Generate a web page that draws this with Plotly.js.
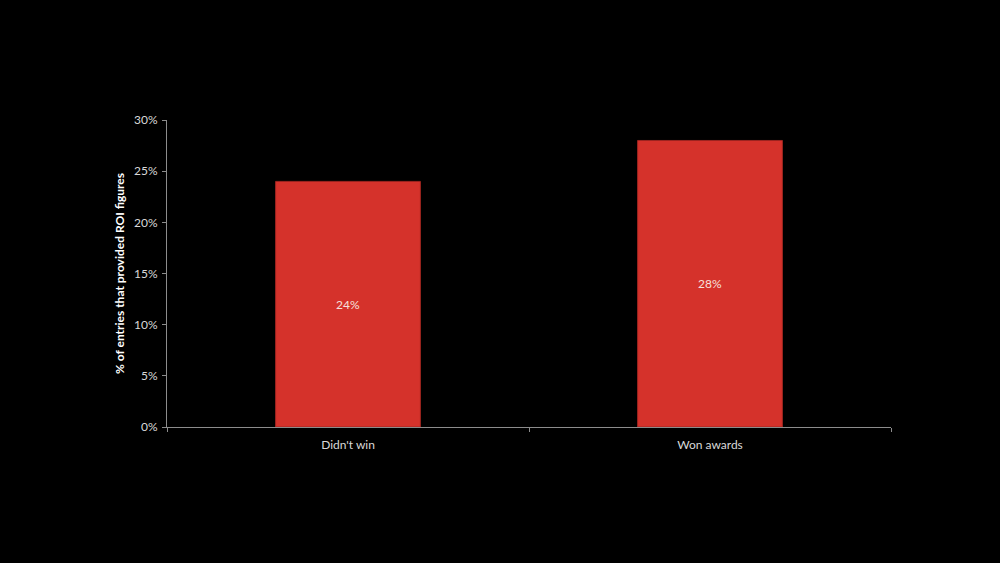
<!DOCTYPE html>
<html>
<head>
<meta charset="utf-8">
<script src="https://cdn.plot.ly/plotly-3.0.1.min.js"></script>
<style>
  html, body { margin: 0; padding: 0; background: #000; }
  #chart { width: 1000px; height: 563px; }
</style>
</head>
<body>
<div id="chart"></div>
<script>
// Share of entries reporting ROI figures, by award outcome
const categories = ["Didn't win", "Won awards"];
const roiShare = [0.24, 0.28];
const yTickValues = [0, 0.05, 0.10, 0.15, 0.20, 0.25, 0.30];
const yTickLabels = ["0%", "5%", "10%", "15%", "20%", "25%", "30%"];

const fontFamily = "Lato, 'Open Sans', 'Liberation Sans', sans-serif";

const trace = {
  type: 'bar',
  x: categories,
  y: roiShare,
  width: 0.4,
  marker: { color: '#d5322b', line: { color: '#9e2520', width: 1 } },
  texttemplate: '%{y:.0%}',
  textposition: 'inside',
  insidetextanchor: 'middle',
  textfont: { family: fontFamily, size: 12, color: '#f6e0dd' },
  hoverinfo: 'skip'
};

const layout = {
  width: 1000,
  height: 563,
  paper_bgcolor: '#000',
  plot_bgcolor: '#000',
  margin: { l: 167, r: 109, t: 120, b: 136 },
  showlegend: false,
  bargap: 0.6,
  font: { family: fontFamily, color: '#d9d9d9', size: 12 },
  xaxis: {
    type: 'category',
    showline: true,
    linecolor: '#8c8c8c',
    linewidth: 1,
    ticks: 'outside',
    tickson: 'boundaries',
    ticklen: 4,
    tickcolor: '#8c8c8c',
    showgrid: false,
    zeroline: false,
    ticklabelstandoff: 7,
    tickfont: { family: fontFamily, size: 12, color: '#d9d9d9' },
    fixedrange: true
  },
  yaxis: {
    range: [0, 0.30],
    tickvals: yTickValues,
    ticktext: yTickLabels,
    showline: true,
    linecolor: '#8c8c8c',
    linewidth: 1,
    ticks: 'outside',
    ticklen: 4,
    tickcolor: '#8c8c8c',
    showgrid: false,
    zeroline: false,
    ticklabelstandoff: 2,
    tickfont: { family: fontFamily, size: 12, color: '#d9d9d9' },
    title: {
      text: '% of entries that provided ROI figures',
      font: { family: fontFamily, size: 12, color: '#ffffff', weight: 'bold' },
      standoff: 6
    },
    fixedrange: true
  }
};

Plotly.newPlot('chart', [trace], layout, { displayModeBar: false, staticPlot: true });
</script>
</body>
</html>
